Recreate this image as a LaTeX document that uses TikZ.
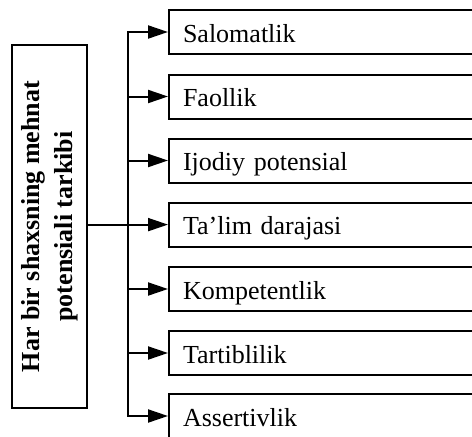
\documentclass[tikz,border=0pt]{standalone}
\usepackage{fontspec}
\setmainfont{Liberation Serif}
\usetikzlibrary{arrows.meta}
\begin{document}
\begin{tikzpicture}[x=1pt,y=-1pt,
  rbox/.style={draw,line width=2pt,anchor=west,minimum height=44pt,text width=290pt,align=left,inner xsep=14pt,text height=20pt,text depth=0pt,font=\fontsize{26}{30}\selectfont},
  lbox/.style={draw,line width=2pt,rotate=90,minimum width=363pt,minimum height=75pt,align=center,font=\bfseries\fontsize{26}{33}\selectfont},
  trunk/.style={line width=2pt,line cap=rect},
  arr/.style={line width=2pt,-{Triangle[length=20pt,width=13pt]}}]
\useasboundingbox (0,0) rectangle (472,437);
\clip (0,0) rectangle (472,437);
\node[lbox] (L) at (49.5,226.5) {Har bir shaxsning mehnat\\potensiali tarkibi};
\node[rbox] (b1) at (168,32) {Salomatlik};
\node[rbox] (b2) at (168,96.5) {Faollik};
\node[rbox] (b3) at (168,160.5) {Ijodiy potensial};
\node[rbox] (b4) at (168,224.6) {Ta'lim darajasi};
\node[rbox] (b5) at (168,289) {Kompetentlik};
\node[rbox] (b6) at (168,353) {Tartiblilik};
\node[rbox] (b7) at (168,416) {Assertivlik};
\coordinate (tr) at (128,0);
\draw[trunk] (b1.west -| tr) -- (b7.west -| tr);
\foreach \b in {b1,b2,b3,b5,b6,b7}{
  \draw[arr] (\b.west -| tr) -- (\b.west);
}
\draw[arr] (L.south |- b4.west) -- (b4.west);
\end{tikzpicture}
\end{document}
